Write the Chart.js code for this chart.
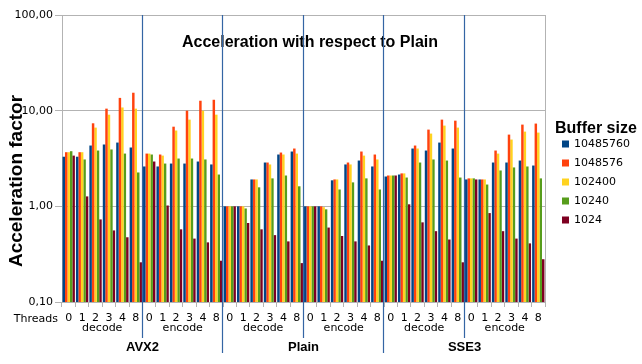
<!DOCTYPE html>
<html>
<head>
<meta charset="utf-8">
<script src="https://cdn.jsdelivr.net/npm/chart.js@4/dist/chart.umd.min.js"></script>
<style>
html,body{margin:0;padding:0;background:#fff;}
#wrap{width:642px;height:364px;position:relative;}
</style>
</head>
<body>
<div id="wrap"><canvas id="c" width="642" height="364"></canvas></div>
<script>
// ---- data ----
const threads = ['0','1','2','3','4','8'];
const operations = ['decode','encode'];
const implementations = ['AVX2','Plain','SSE3'];
const bufferSizes = ['10485760','1048576','102400','10240','1024'];
const seriesColors = ['#004586','#ff420e','#ffd320','#579d1c','#7e0021'];

const s10485760 = [3.30,3.30,4.32,4.43,4.64,4.12, 2.61,2.61,2.80,2.80,2.94,2.74,
                   1.00,1.00,1.91,2.87,3.48,3.74, 1.00,1.00,1.87,2.74,3.01,2.61,
                   2.05,2.15,4.02,3.83,4.64,4.02, 1.91,1.91,2.87,2.87,3.01,2.67];
const s1048576  = [3.68,3.68,7.38,10.5,13.6,15.4, 3.56,3.48,6.80,10.0,12.7,13.0,
                   1.00,1.00,1.91,2.87,3.65,4.02, 1.00,1.00,1.91,2.87,3.74,3.48,
                   2.10,2.21,4.32,6.34,8.06,7.86, 1.96,1.91,3.83,5.62,7.15,7.33];
const s102400   = [3.68,3.68,6.65,9.08,10.8,10.5, 3.56,3.39,6.20,8.06,10.0,9.08,
                   1.00,1.00,1.91,2.74,3.48,3.56, 1.00,0.98,1.91,2.74,3.39,3.09,
                   2.10,2.21,4.02,5.76,6.98,6.65, 1.96,1.91,3.56,4.99,6.04,5.90];
const s10240    = [3.77,3.09,3.83,3.93,3.56,2.26, 3.48,2.80,3.16,3.16,3.09,2.15,
                   1.00,0.95,1.58,1.96,2.10,1.62, 1.00,0.93,1.50,1.78,1.96,1.50,
                   2.10,2.00,2.87,3.09,3.01,2.00, 1.96,1.69,2.37,2.55,2.61,1.96];
const s1024     = [3.39,1.27,0.73,0.56,0.475,0.26, 2.94,1.02,0.575,0.46,0.42,0.27,
                   1.00,0.67,0.575,0.50,0.43,0.255, 1.00,0.60,0.49,0.43,0.39,0.27,
                   2.10,1.05,0.68,0.55,0.45,0.26, 1.91,0.85,0.55,0.46,0.41,0.28];
const yTicks = [0.1, 1, 10, 100];
const yTickLabels = ['0,10','1,00','10,00','100,00'];
const chartTitle = 'Acceleration with respect to Plain';
const yTitle = 'Acceleration factor';
const legendTitle = 'Buffer size';
const xTitle = 'Threads';

// ---- build ----
const labels = [];
implementations.forEach(() => operations.forEach(() => threads.forEach(t => labels.push(t))));
const allSeries = [s10485760, s1048576, s102400, s10240, s1024];
const datasets = allSeries.map((d, i) => ({
  label: bufferSizes[i], data: d, backgroundColor: seriesColors[i],
  borderWidth: 0, categoryPercentage: 0.92, barPercentage: 1.0
}));

const GRID = '#b3b3b3';
const DIV = '#3465a4';
const SANS = '"DejaVu Sans", sans-serif';
const BOLD = '"Liberation Sans", Arial, sans-serif';

const decorPlugin = {
  id: 'decor',
  afterDraw(chart) {
    const ctx = chart.ctx, a = chart.chartArea, x = chart.scales.x;
    ctx.save();
    // right border
    ctx.strokeStyle = GRID; ctx.lineWidth = 1;
    ctx.beginPath(); ctx.moveTo(Math.round(a.right) + 0.5, a.top); ctx.lineTo(Math.round(a.right) + 0.5, a.bottom); ctx.stroke();
    // title
    ctx.fillStyle = '#000';
    ctx.font = 'bold 16px ' + BOLD;
    ctx.textAlign = 'center'; ctx.textBaseline = 'alphabetic';
    ctx.fillText(chartTitle, 310, 47);
    // dividers
    const n = threads.length;
    ctx.strokeStyle = DIV; ctx.lineWidth = 1.2;
    for (let k = 1; k < implementations.length * operations.length; k++) {
      const px = Math.round((x.getPixelForValue(k * n - 1) + x.getPixelForValue(k * n)) / 2) - 0.5;
      const bottom = (k % operations.length === 0) ? 353 : 338;
      ctx.beginPath(); ctx.moveTo(px, a.top); ctx.lineTo(px, bottom); ctx.stroke();
    }
    // Threads label
    ctx.fillStyle = '#000';
    ctx.font = '11px ' + SANS;
    ctx.textAlign = 'right'; ctx.textBaseline = 'middle';
    ctx.fillText(xTitle, 58, 319);
    // operation labels
    ctx.textAlign = 'center';
    for (let k = 0; k < implementations.length * operations.length; k++) {
      const cx = (x.getPixelForValue(k * n) + x.getPixelForValue(k * n + n - 1)) / 2;
      ctx.fillText(operations[k % operations.length], cx, 328);
    }
    // implementation labels
    ctx.font = 'bold 13px ' + BOLD;
    const per = n * operations.length;
    for (let g = 0; g < implementations.length; g++) {
      const cx = (x.getPixelForValue(g * per) + x.getPixelForValue(g * per + per - 1)) / 2;
      ctx.fillText(implementations[g], cx, 347);
    }
    // y title
    ctx.save();
    ctx.translate(17, 181);
    ctx.rotate(-Math.PI / 2);
    ctx.font = 'bold 19px ' + BOLD;
    ctx.textAlign = 'center'; ctx.textBaseline = 'middle';
    ctx.fillText(yTitle, 0, 0);
    ctx.restore();
    // legend
    ctx.font = 'bold 16px ' + BOLD;
    ctx.textAlign = 'left'; ctx.textBaseline = 'middle';
    ctx.fillText(legendTitle, 555, 129);
    ctx.font = '11px ' + SANS;
    chart.data.datasets.forEach((ds, i) => {
      const cy = 144 + i * 19;
      ctx.fillStyle = ds.backgroundColor;
      ctx.fillRect(562, cy - 3.5, 7, 7);
      ctx.fillStyle = '#000';
      ctx.fillText(ds.label, 574, cy);
    });
    ctx.restore();
  }
};

new Chart(document.getElementById('c'), {
  type: 'bar',
  data: { labels, datasets },
  options: {
    responsive: false, animation: false,
    layout: { padding: { top: 15, right: 97, left: 0, bottom: 0 } },
    plugins: { legend: { display: false }, tooltip: { enabled: false }, title: { display: false } },
    scales: {
      x: {
        type: 'category',
        grid: { display: true, drawOnChartArea: false, drawTicks: true, tickLength: 5, color: GRID, offset: true },
        border: { color: GRID },
        ticks: { color: '#000', font: { family: SANS, size: 11 }, padding: 5, maxRotation: 0, autoSkip: false },
        afterFit(s) { s.height = 62; }
      },
      y: {
        type: 'logarithmic', min: 0.1, max: 100,
        afterBuildTicks(s) { s.ticks = yTicks.map(v => ({ value: v })); },
        grid: { color: GRID, tickLength: 7 },
        border: { color: GRID },
        ticks: { color: '#000', font: { family: SANS, size: 11 }, padding: 2,
          callback: (v) => { const i = yTicks.indexOf(v); return i >= 0 ? yTickLabels[i] : ''; } },
        afterFit(s) { s.width = 62; }
      }
    }
  },
  plugins: [decorPlugin]
});
</script>
</body>
</html>
